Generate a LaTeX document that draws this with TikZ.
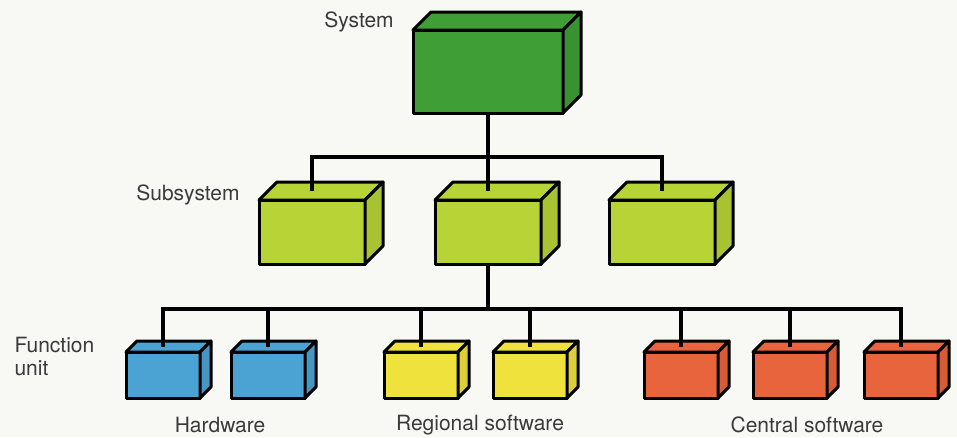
\documentclass[tikz,border=0pt]{standalone}
\usepackage{fontspec}
\setmainfont{TeX Gyre Heros}
\definecolor{bggrey}{HTML}{F8F8F4}
\definecolor{labelgrey}{HTML}{3A3A3A}
\definecolor{sysgreen}{HTML}{3F9E36}
\definecolor{sublime}{HTML}{B8D336}
\definecolor{hwblue}{HTML}{4BA3D3}
\definecolor{regyellow}{HTML}{F0E23C}
\definecolor{cenorange}{HTML}{E8643C}
\tikzset{
    face/.style={draw=black, line width=3pt, line join=round},
    front/.style={face, rectangle, inner sep=0pt, outer sep=0pt},
    big/.style={front, minimum width=150pt, minimum height=83pt},
    sub/.style={front, minimum width=106pt, minimum height=64pt},
    unit/.style={front, minimum width=74pt, minimum height=46pt},
    wire/.style={draw=black, line width=3.2pt},
    lbl/.style={text=labelgrey, font=\fontsize{21}{23}\selectfont},
}
% top and side of a box: #1 node, #2 depth, #3 colour
\newcommand{\drawfaces}[3]{
    \filldraw[face, fill=#3] (#1.north west) -- ++(#2,-#2) -- ([shift={(#2,-#2)}]#1.north east) -- (#1.north east) -- cycle;
    \filldraw[face, fill=#3!92!black] (#1.north east) -- ([shift={(#2,-#2)}]#1.north east) -- ([shift={(#2,-#2)}]#1.south east) -- (#1.south east) -- cycle;
    \coordinate (#1-in) at ([shift={(0,-#2/2)}]#1.north);
}

\begin{document}
\begin{tikzpicture}[x=1pt,y=-1pt]
    \useasboundingbox[fill=bggrey] (0,0) rectangle (957,437);
    % system
    \node[big, fill=sysgreen] (sys) at (488,71.5) {};
    \drawfaces{sys}{18}{sysgreen}
    % subsystems
    \node[sub, fill=sublime] (sub1) at (312,232) {};
    \node[sub, fill=sublime] (sub2) at (488,232) {};
    \node[sub, fill=sublime] (sub3) at (662,232) {};
    \foreach \n in {sub1,sub2,sub3} {\drawfaces{\n}{18}{sublime}}
    % function units
    \node[unit, fill=hwblue] (hw1) at (163,375) {};
    \node[unit, fill=hwblue] (hw2) at (268,375) {};
    \node[unit, fill=regyellow] (reg1) at (421,375) {};
    \node[unit, fill=regyellow] (reg2) at (530,375) {};
    \node[unit, fill=cenorange] (cen1) at (681,375) {};
    \node[unit, fill=cenorange] (cen2) at (790,375) {};
    \node[unit, fill=cenorange] (cen3) at (901,375) {};
    \foreach \n in {hw1,hw2} {\drawfaces{\n}{11}{hwblue}}
    \foreach \n in {reg1,reg2} {\drawfaces{\n}{11}{regyellow}}
    \foreach \n in {cen1,cen2,cen3} {\drawfaces{\n}{11}{cenorange}}
    % wiring
    \draw[wire] (sys.south) -- ++(0,44) coordinate (bus1);
    \draw[wire] (sub1-in) |- (bus1) -| (sub3-in);
    \draw[wire] (bus1) -- (sub2-in);
    \draw[wire] (sub2.south) -- ++(0,45) coordinate (bus2);
    \draw[wire] (hw1-in) |- (bus2) -| (cen3-in);
    \foreach \n in {hw2,reg1,reg2,cen1,cen2}
        \draw[wire] (\n-in) -- (\n-in |- bus2);
    % labels
    \node[lbl] (syslbl) at (359,22) {System};
    \node[lbl] (sublbl) at (188,195) {Subsystem};
    \node[lbl, align=left, anchor=west] (funlbl) at (11,356) {Function\\unit};
    \node[lbl] (hwlbl) at (220,425) {Hardware};
    \node[lbl] (reglbl) at (480,425) {Regional software};
    \node[lbl] (cenlbl) at (807,425) {Central software};
\end{tikzpicture}
\end{document}
